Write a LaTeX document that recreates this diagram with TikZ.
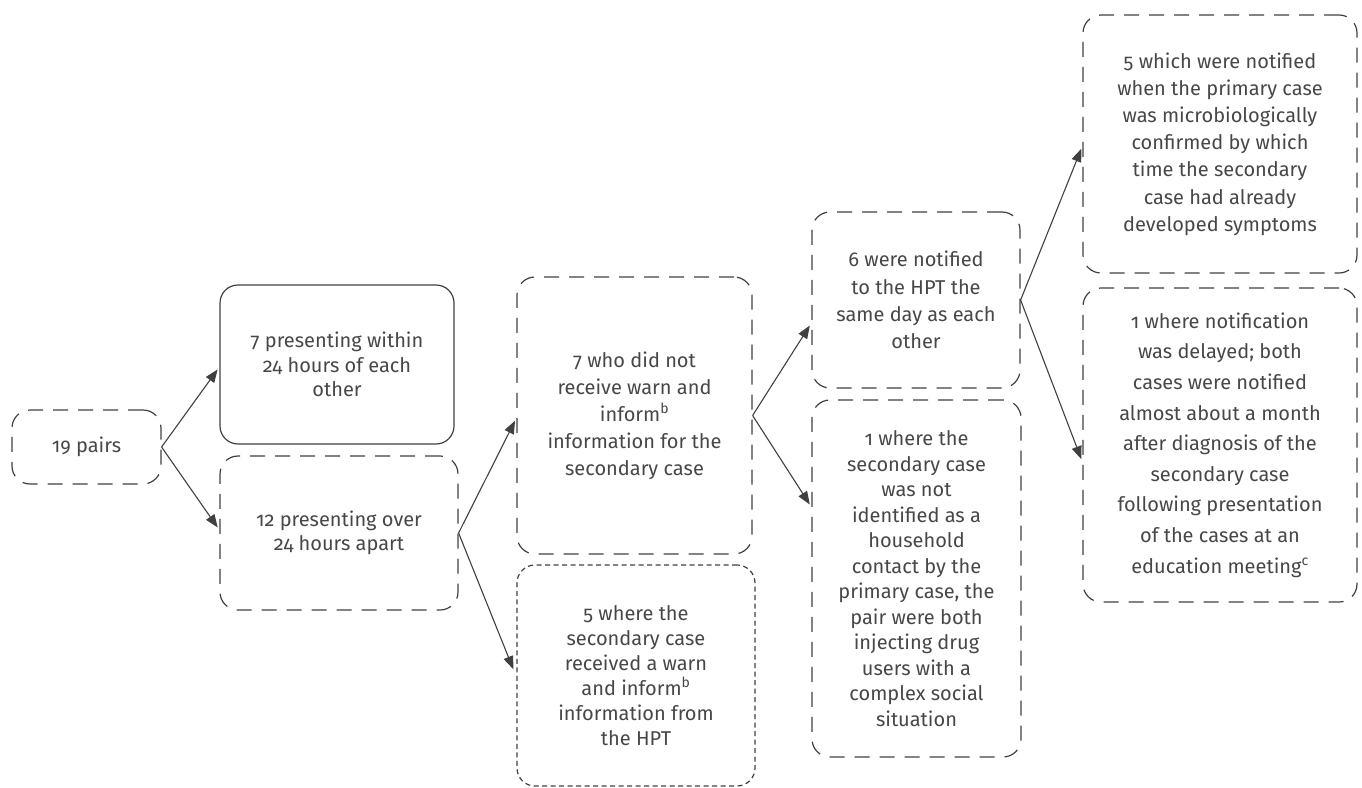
\documentclass[tikz,border=0pt]{standalone}
\usepackage{fontspec}
\setmainfont{Fira Sans}[Numbers=OldStyle]
\usetikzlibrary{arrows.meta}
\definecolor{lc}{HTML}{404040}
\definecolor{tc}{HTML}{474747}
\begin{document}
\begin{tikzpicture}[x=1pt,y=-1pt,
  box/.style={draw=lc, line width=1.2pt, rounded corners=18pt, align=center,
    inner sep=0pt, text=tc},
  fs/.style={font=\fontsize{20}{#1}\selectfont},
  dashbox/.style={box, dash pattern=on 15pt off 10pt},
  dotbox/.style={box, dash pattern=on 5pt off 3.5pt},
  arr/.style={draw=lc, line width=1.1pt, -{Triangle[length=13pt,width=10pt]}, shorten >=3pt}]
\useasboundingbox (0,0) rectangle (1362,787);
\node[dashbox, fs=26, minimum width=149pt, minimum height=74pt] (b1) at (86.5,447) {19 pairs};
\node[box, fs=24.5, minimum width=234pt, minimum height=159pt] (b2) at (337,364.5)
  {7 presenting within\\24 hours of each\\other};
\node[dashbox, fs=24.5, minimum width=238pt, minimum height=154pt] (b3) at (339,533)
  {12 presenting over\\24 hours apart};
\node[dashbox, fs=27, minimum width=235pt, minimum height=277pt] (b4) at (634.5,415.5)
  {7 who did not\\receive warn and\\inform\textsuperscript{b}\\information for the\\secondary case};
\node[dotbox, fs=25, minimum width=238pt, minimum height=221pt] (b5) at (636,675.5)
  {5 where the\\secondary case\\received a warn\\and inform\textsuperscript{b}\\information from\\the HPT};
\node[dashbox, fs=27.3, minimum width=208pt, minimum height=176pt] (b6) at (916,300)
  {6 were notified\\to the HPT the\\same day as each\\other};
\node[dashbox, fs=25.5, minimum width=209pt, minimum height=357pt] (b7) at (916.5,578.5)
  {1 where the\\secondary case\\was not\\identified as a\\household\\contact by the\\primary case, the\\pair were both\\injecting drug\\users with a\\complex social\\situation};
\node[dashbox, fs=27.2, minimum width=274pt, minimum height=258pt] (b8) at (1220,144)
  {5 which were notified\\when the primary case\\was microbiologically\\confirmed by which\\time the secondary\\case had already\\developed symptoms};
\node[dashbox, fs=30.6, minimum width=274pt, minimum height=314pt] (b9) at (1220,445)
  {1 where notification\\was delayed; both\\cases were notified\\almost about a month\\after diagnosis of the\\secondary case\\following presentation\\of the cases at an\\education meeting\textsuperscript{c}};
\draw[arr] (b1.east) -- ([yshift=-2.5pt]b2.west);
\draw[arr] (b1.east) -- ([yshift=3pt]b2.west |- b3.west);
\draw[arr] (b3.east) -- ([yshift=-2.5pt]b4.west);
\draw[arr] (b3.east) -- ([yshift=3.5pt,xshift=-2pt]b5.west);
\draw[arr] (b4.east) -- ([yshift=-23pt]b6.west);
\draw[arr] (b4.east) -- ([yshift=71.5pt]b7.west);
\draw[arr] (b6.east) -- ([yshift=-2pt]b8.west);
\draw[arr] (b6.east) -- ([yshift=-17pt]b9.west);
\end{tikzpicture}
\end{document}
